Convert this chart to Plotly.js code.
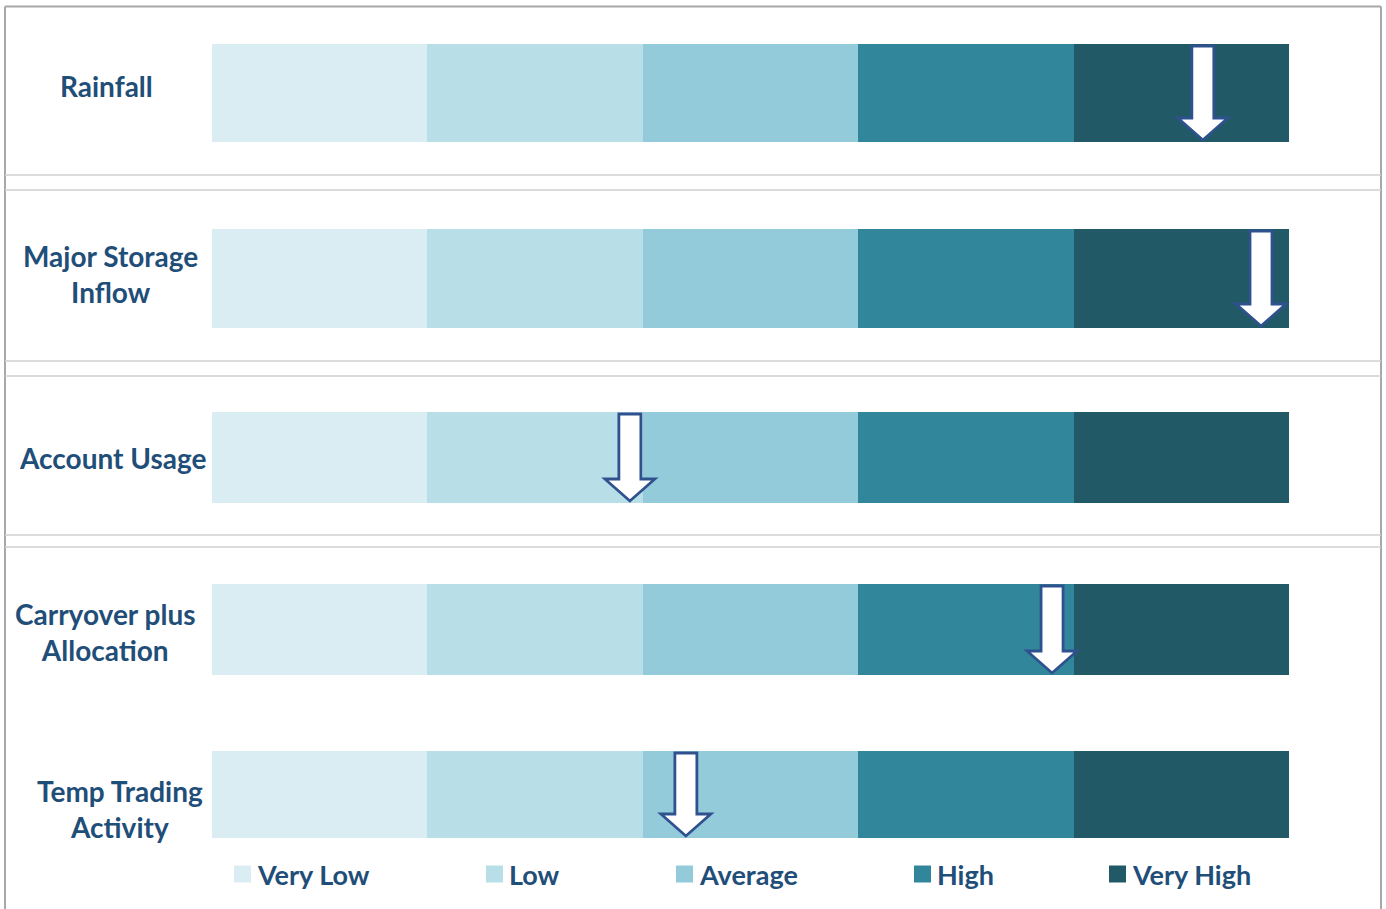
<!DOCTYPE html>
<html>
<head>
<meta charset="utf-8">
<script src="https://cdn.plot.ly/plotly-3.0.1.min.js"></script>
<style>
  html, body { margin: 0; padding: 0; background: #ffffff; }
  #chart { width: 1386px; height: 909px; }
</style>
</head>
<body>
<div id="chart"></div>
<script>
// Indicators and their rating scale
const indicators = ['Rainfall', 'Major Storage<br>Inflow', 'Account Usage', 'Carryover plus<br>Allocation', 'Temp Trading<br>Activity'];
const levels = ['Very Low', 'Low', 'Average', 'High', 'Very High'];
const levelSpan = [1, 1, 1, 1, 1];          // each rating band is one unit wide
const currentRating = [4.6, 4.87, 1.94, 3.9, 2.2]; // arrow position on the 0–5 scale

// Styling and page geometry (pixels)
const levelColors = ['#DAEDF3', '#B8DEE7', '#93CBDB', '#31869B', '#215967'];
const textColor = '#1F4E79';
const W = 1386, H = 909;
const barLeft = 212, barRight = 1289;
const rowTop = [44, 229, 412, 584, 751];
const rowBottom = [142, 328, 503, 675, 838];
const labelX = [106, 110, 112, 105, 120];
const labelY = [86, 274, 458, 632, 809];
const separatorPairs = [[175, 190], [361, 376], [535, 547]];
const legendTextX = [258, 510, 700, 938, 1133];
const legendY = 874;

const unit = (barRight - barLeft) / levels.length;
const rowCenter = rowTop.map((t, i) => (t + rowBottom[i]) / 2);
const rowHeight = rowTop.map((t, i) => rowBottom[i] - t);

// One stacked trace per rating band
const traces = levels.map((lvl, k) => ({
  type: 'bar',
  orientation: 'h',
  name: lvl,
  y: rowCenter,
  x: indicators.map(() => levelSpan[k]),
  width: rowHeight,
  marker: { color: levelColors[k], line: { width: 0 } },
  hovertemplate: lvl + '<extra></extra>',
  showlegend: false
}));

const shapes = [];
const annotations = [];

// Frame
const frameColor = '#A8A8A8';
shapes.push({ type: 'line', xref: 'paper', yref: 'paper', x0: 5 / W, x1: 1381 / W, y0: 1 - 6.5 / H, y1: 1 - 6.5 / H, line: { color: frameColor, width: 2 } });
shapes.push({ type: 'line', xref: 'paper', yref: 'paper', x0: 5 / W, x1: 5 / W, y0: 0, y1: 1 - 6.5 / H, line: { color: frameColor, width: 2 } });
shapes.push({ type: 'line', xref: 'paper', yref: 'paper', x0: 1381 / W, x1: 1381 / W, y0: 0, y1: 1 - 6.5 / H, line: { color: frameColor, width: 2 } });

// Row separators
separatorPairs.forEach(pair => pair.forEach(py => {
  shapes.push({ type: 'line', xref: 'paper', yref: 'y', x0: 5 / W, x1: 1381 / W, y0: py, y1: py, line: { color: '#CFCFCF', width: 1.5 } });
}));

// Down arrows marking the current rating
const shaftHalf = 11, headHalf = 25, headLen = 22;
currentRating.forEach((v, i) => {
  const top = rowTop[i] + 2, tip = rowBottom[i] - 2, headTop = tip - headLen;
  const dx = px => v + px / unit;
  const path = [
    'M', dx(-shaftHalf), top, 'L', dx(shaftHalf), top,
    'L', dx(shaftHalf), headTop, 'L', dx(headHalf), headTop,
    'L', dx(0), tip, 'L', dx(-headHalf), headTop,
    'L', dx(-shaftHalf), headTop, 'Z'
  ].join(' ');
  shapes.push({ type: 'path', xref: 'x', yref: 'y', path: path, fillcolor: '#FFFFFF', line: { color: '#2F528F', width: 2.8 } });
});

// Row labels
indicators.forEach((lab, i) => {
  annotations.push({
    xref: 'paper', yref: 'y', x: labelX[i] / W, y: labelY[i],
    text: '<b>' + lab + '</b>', showarrow: false, xanchor: 'center', yanchor: 'middle',
    align: 'center', font: { family: 'Lato, sans-serif', size: 28, color: textColor }
  });
});

// Legend
levels.forEach((lvl, k) => {
  const tx = legendTextX[k];
  shapes.push({ type: 'rect', xref: 'paper', yref: 'y', x0: (tx - 24) / W, x1: (tx - 7) / W, y0: legendY - 8.5, y1: legendY + 8.5, fillcolor: levelColors[k], line: { width: 0 } });
  annotations.push({
    xref: 'paper', yref: 'y', x: (tx - 3) / W, y: legendY, text: '<b>' + lvl + '</b>', showarrow: false,
    xanchor: 'left', yanchor: 'middle', font: { family: 'Lato, sans-serif', size: 27, color: textColor }
  });
});

const layout = {
  width: W, height: H,
  margin: { l: 0, r: 0, t: 0, b: 0, pad: 0 },
  paper_bgcolor: '#FFFFFF', plot_bgcolor: '#FFFFFF',
  barmode: 'stack', bargap: 0,
  showlegend: false,
  xaxis: { range: [-barLeft / unit, (W - barLeft) / unit], visible: false, fixedrange: true },
  yaxis: { range: [H, 0], visible: false, fixedrange: true },
  shapes: shapes,
  annotations: annotations
};

Plotly.newPlot('chart', traces, layout, { displayModeBar: false, staticPlot: true });
</script>
</body>
</html>
